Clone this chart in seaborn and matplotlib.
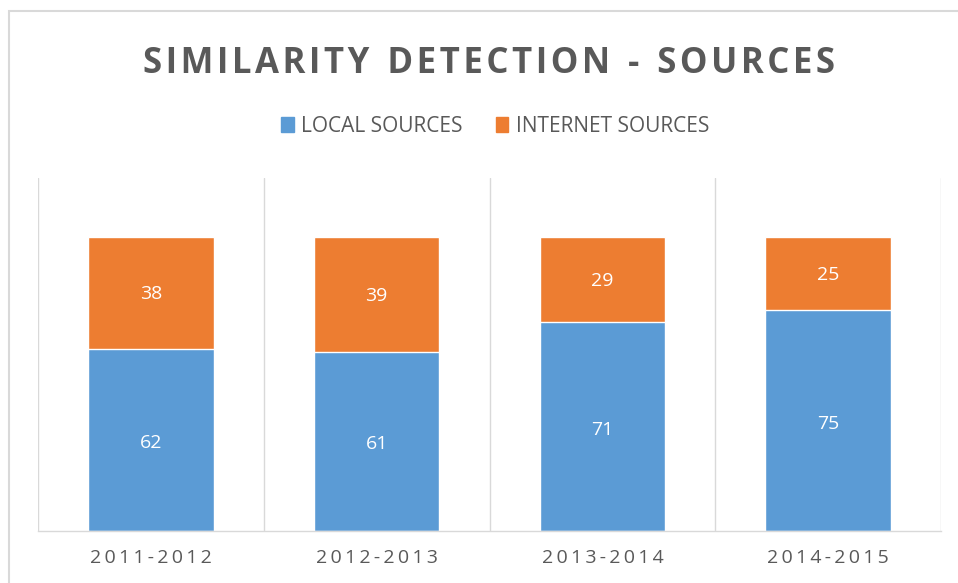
import pandas as pd
import matplotlib
matplotlib.use("Agg")
import matplotlib.pyplot as plt
import seaborn as sns
from matplotlib.patches import Rectangle

# data
years = ["2011-2012", "2012-2013", "2013-2014", "2014-2015"]
local_sources = [62, 61, 71, 75]
internet_sources = [38, 39, 29, 25]

BLUE = "#5B9BD5"
ORANGE = "#ED7D31"
GREY = "#595959"
LINE = "#D9D9D9"

df = pd.DataFrame({"year": years, "local": local_sources, "internet": internet_sources})
df["total"] = df["local"] + df["internet"]

sns.set_style("white")
plt.rcParams["font.family"] = ["Open Sans", "DejaVu Sans"]

fig = plt.figure(figsize=(9.58, 5.83), dpi=100)
ax = fig.add_axes([38 / 958, 52 / 583, 903 / 958, 353 / 583])

# stacked bars: totals in orange, local on top in blue
sns.barplot(data=df, x="year", y="total", color=ORANGE, width=0.555, ax=ax, saturation=1)
sns.barplot(data=df, x="year", y="local", color=BLUE, width=0.555, ax=ax, saturation=1)

for i, row in df.iterrows():
    ax.text(i, row["local"] / 2 - 1, str(row["local"]), ha="center", va="center",
            color="white", fontsize=14)
    ax.text(i, row["local"] + row["internet"] / 2 - 0.5, str(row["internet"]), ha="center",
            va="center", color="white", fontsize=14)

ax.set_ylim(0, 120)
ax.set_xlim(-0.5, len(years) - 0.5)
ax.set_yticks([])
ax.set_xlabel("")
ax.set_ylabel("")

# vertical separators between categories
for b in [i - 0.5 for i in range(len(years) + 1)]:
    ax.axvline(b, color=LINE, lw=1, zorder=0)

for s in ["top", "left", "right"]:
    ax.spines[s].set_visible(False)
ax.spines["bottom"].set_color(LINE)
ax.spines["bottom"].set_linewidth(1)

ax.set_xticks(range(len(years)))
ax.set_xticklabels(["\u2009".join(y) for y in years], color=GREY, fontsize=14)
ax.tick_params(axis="x", length=0, pad=13)

title_words = ["SIMILARITY", "DETECTION", "-", "SOURCES"]
title = "  ".join("\u200a".join(w) for w in title_words)
fig.text(489 / 958, 1 - 73 / 583, title, ha="center", va="baseline",
         fontsize=25, fontweight="bold", color=GREY)

# legend
handles = [Rectangle((0, 0), 1, 1, color=BLUE), Rectangle((0, 0), 1, 1, color=ORANGE)]
fig.legend(handles, ["LOCAL SOURCES", "INTERNET SOURCES"], loc="center",
           bbox_to_anchor=(495 / 958, 1 - 126 / 583), ncol=2, frameon=False,
           fontsize=15, labelcolor=GREY, handlelength=0.6, handleheight=0.75,
           handletextpad=0.35, columnspacing=1.6)

# light frame of the chart area
fig.patches.append(Rectangle((9 / 958, -0.1), 1.2, 1.1 - 11 / 583,
                             transform=fig.transFigure, fill=False,
                             edgecolor=LINE, lw=1.5))

fig.savefig("out.png", dpi=100)
